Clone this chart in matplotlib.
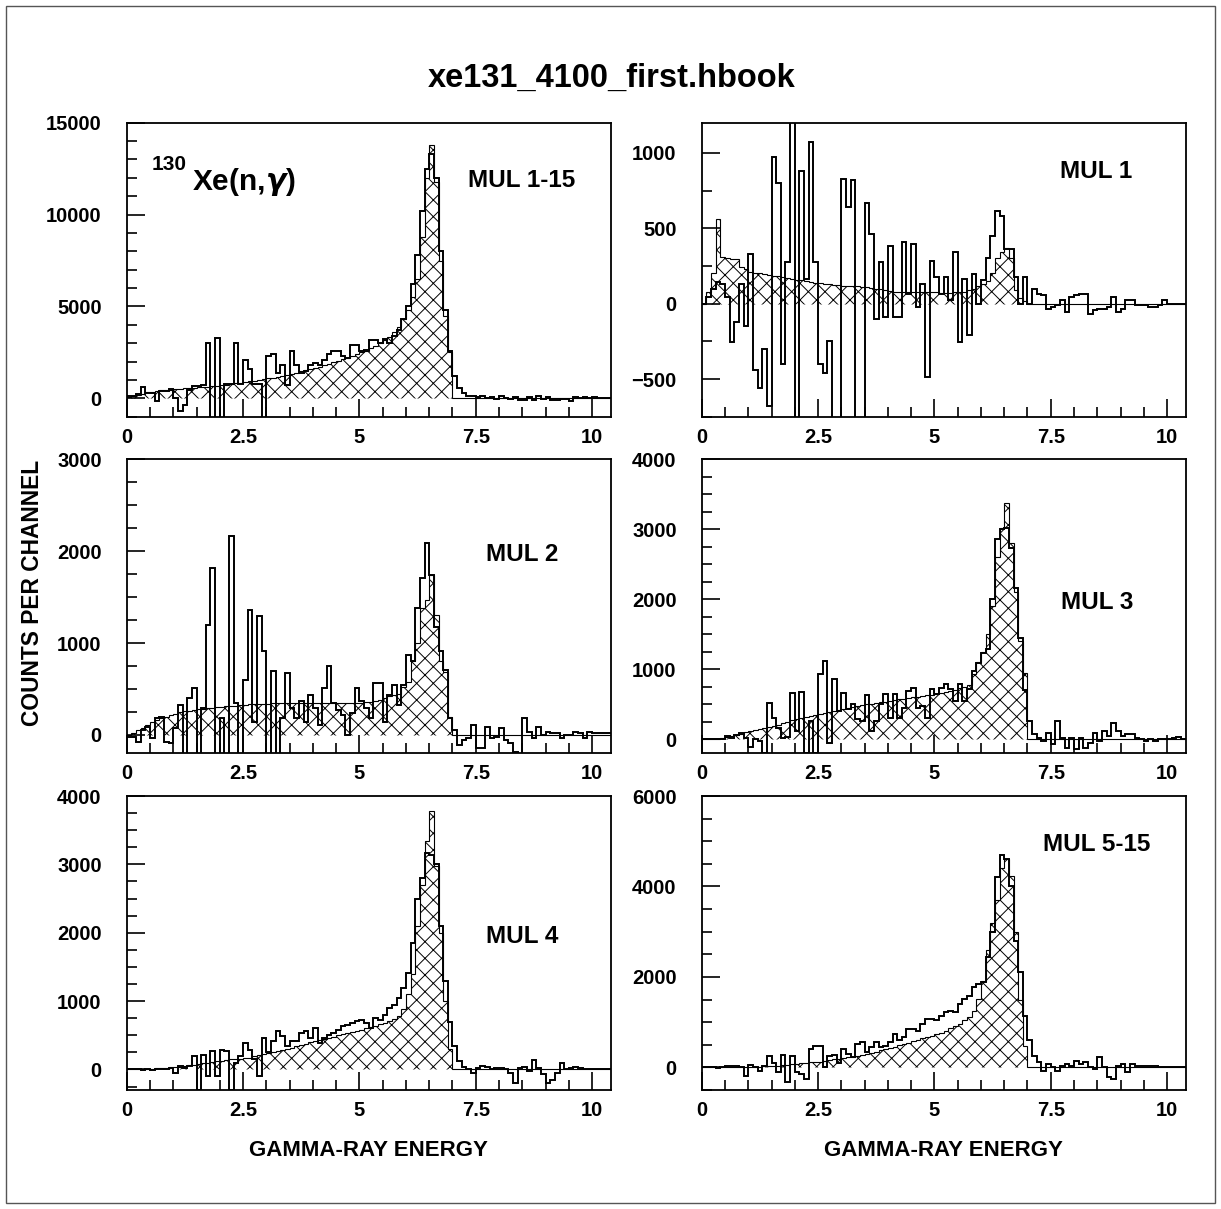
import numpy as np
import matplotlib
matplotlib.use("Agg")
import matplotlib.pyplot as plt
import matplotlib.ticker as mticker
from matplotlib.patches import Rectangle

# ── Channels: 0.1 MeV wide, 0 .. 10.4 MeV ────────────────────────────────────
EDGES = np.round(np.arange(105) * 0.1, 2)

# ── MUL 1-15 ─────────────────────────────────────────────────────────────────
data_mul1_15 = [
    100, 150, 250, 620, 290, 290, -160, 380, 380, 500,
    20, -700, -340, 470, 650, 650, 700, 3000, -1500, 3300,
    -1500, 800, 800, 3000, 800, 2100, 1600, 800, 800, -1500,
    2300, 2400, 1400, 1800, 700, 2600, 1800, 1400, 1500, 1800,
    1900, 1800, 2100, 2400, 2600, 2600, 2300, 2200, 2900, 2900,
    2600, 2650, 3200, 3150, 3000, 3250, 3000, 3400, 3700, 4300,
    5000, 6200, 7800, 10200, 12500, 13300, 12000, 8000, 4800, 2600,
    1200, 550, 300, 150, 100, 50, 100, 0, 50, -50,
    100, 0, -50, 50, -100, -100, 50, -100, 150, -50,
    50, -100, -100, -50, -50, -150, 50, 0, 50, 0,
    50, 0, 0, 0,
]
sim_mul1_15 = [
    50, 120, 200, 260, 320, 370, 400, 430, 460, 480,
    500, 520, 540, 560, 580, 600, 620, 640, 660, 690,
    720, 750, 780, 810, 840, 880, 920, 960, 1000, 1040,
    1080, 1120, 1170, 1220, 1280, 1340, 1400, 1460, 1520, 1580,
    1650, 1720, 1790, 1870, 1950, 2030, 2120, 2210, 2300, 2400,
    2500, 2600, 2720, 2850, 2990, 3150, 3350, 3600, 3900, 4300,
    4800, 5500, 6500, 8800, 12000, 13800, 11800, 7500, 4500, 2500,
] + [0] * 34

# ── MUL 1 ────────────────────────────────────────────────────────────────────
data_mul1 = [
    0, 44, 100, 143, 130, 44, -254, -121, 132, -150,
    330, -440, -560, -300, -678, 970, 800, -400, 275, 1300,
    -800, 880, 165, 1070, 275, -400, -460, -250, -800, -800,
    825, 640, 820, -800, -800, 670, 460, -100, 275, -88,
    385, -88, -88, 407, 66, 396, -22, 132, -484, 286,
    176, 66, 176, 22, 341, -253, 165, -209, 198, 0,
    154, 300, 451, 616, 583, 363, 363, 176, 0, 176,
    0, 100, 66, 55, -33, -22, -10, 22, -55, 44,
    55, 66, 66, -66, -44, -33, -33, -22, 44, -55,
    -33, 22, 22, -10, -10, -10, -20, -20, -10, 22,
    0, 0, 0, 0,
]
sim_mul1 = [
    0, 77, 200, 564, 308, 300, 298, 298, 240, 232,
    210, 205, 200, 195, 190, 185, 180, 175, 170, 165,
    160, 155, 150, 145, 140, 135, 130, 130, 125, 125,
    120, 120, 115, 115, 110, 110, 105, 100, 95, 90,
    85, 80, 80, 78, 78, 76, 76, 75, 75, 74,
    74, 72, 72, 72, 74, 75, 80, 90, 100, 120,
    130, 150, 200, 300, 340, 370, 300, 90, 40, 20,
] + [0] * 34

# ── MUL 2 ────────────────────────────────────────────────────────────────────
data_mul2 = [
    -18, -18, -73, 55, 91, -36, 180, 200, -73, -90,
    73, 327, -300, 400, 509, -300, 290, 1200, 1820, -300,
    182, -300, 2160, 345, -300, 600, 1360, 145, 1290, 909,
    -300, 700, -300, 182, 673, 290, 182, 364, 145, 436,
    290, 109, 509, 745, 345, 270, 218, 0, 240, 509,
    364, 290, 182, 564, 564, 145, 436, 545, 330, 545,
    873, 800, 1380, 1710, 2090, 1745, 1180, 909, 710, 182,
    55, -110, -55, -36, 109, -145, -145, 91, -36, -18,
    73, -55, -90, -182, -300, 182, 36, -36, 91, 0,
    36, 18, 18, -36, 0, 0, 36, 18, -36, 36,
    18, 18, 18, 18,
]
sim_mul2 = [
    0, 20, 50, 80, 110, 140, 160, 180, 200, 215,
    230, 245, 255, 265, 275, 280, 285, 290, 295, 300,
    305, 310, 315, 320, 325, 330, 335, 335, 340, 340,
    340, 345, 345, 345, 345, 345, 345, 345, 345, 345,
    345, 350, 350, 350, 350, 350, 350, 350, 350, 350,
    350, 355, 360, 370, 385, 400, 420, 436, 450, 527,
    580, 800, 1000, 1380, 1470, 1745, 1300, 800, 690, 200,
] + [0] * 34

# ── MUL 3 ────────────────────────────────────────────────────────────────────
data_mul3 = [
    0, 0, 0, 0, 0, 48, 20, 60, 95, 20,
    -110, 0, -30, -190, 524, 300, 167, 20, 30, 666,
    119, 680, -190, 262, -190, 928, 1120, -48, 857, 405,
    666, 430, 500, 285, 262, 633, 119, 262, 500, 643,
    309, 643, 309, 450, 690, 738, 450, 476, 309, 714,
    643, 738, 785, 714, 547, 785, 547, 714, 976, 1095,
    1238, 1285, 2000, 2856, 3000, 3020, 2740, 2160, 1450, 700,
    262, 70, 20, -24, 95, -71, 262, 20, -119, 20,
    -143, 20, -119, -48, 95, -24, 119, 48, 238, 119,
    48, 71, 71, 24, 0, -24, 0, -24, 0, 0,
    0, 24, 30, 0,
]
sim_mul3 = [
    0, 0, 5, 10, 20, 30, 45, 60, 80, 100,
    120, 135, 150, 165, 180, 195, 210, 230, 250, 270,
    285, 300, 315, 330, 345, 360, 375, 390, 405, 420,
    435, 450, 465, 480, 490, 500, 510, 520, 530, 540,
    550, 560, 570, 580, 590, 600, 610, 620, 630, 640,
    650, 665, 680, 695, 710, 730, 750, 780, 930, 1100,
    1250, 1500, 1900, 2600, 3020, 3380, 2800, 2100, 1400, 950,
] + [0] * 34

# ── MUL 4 ────────────────────────────────────────────────────────────────────
data_mul4 = [
    0, 10, 0, -10, 0, -10, 0, 0, 10, 20,
    -50, 50, 20, 50, 195, -300, 219, -97, 268, -97,
    292, 268, -300, 100, 195, 390, 292, 150, -97, 463,
    250, 414, 560, 487, 340, 414, 414, 536, 560, 463,
    609, 390, 463, 511, 530, 580, 633, 650, 682, 706,
    730, 682, 600, 755, 730, 804, 900, 950, 1050, 1190,
    1410, 1850, 2500, 2800, 3160, 3140, 3000, 2100, 1300, 700,
    350, 120, 30, 0, -50, 20, 50, 30, 0, 20,
    20, 0, -50, -195, 20, 40, -20, 136, 20, -60,
    -195, -160, -50, 97, 0, 20, 30, 20, 0, 10,
    0, 0, 0, 0,
]
sim_mul4 = [
    0, 0, 0, 0, 5, 10, 15, 20, 25, 30,
    35, 40, 50, 60, 70, 80, 90, 100, 110, 120,
    130, 140, 150, 155, 160, 165, 175, 190, 205, 220,
    240, 255, 270, 285, 300, 320, 340, 360, 380, 400,
    415, 430, 445, 460, 480, 500, 515, 530, 550, 565,
    580, 600, 620, 640, 660, 680, 710, 740, 780, 880,
    1100, 1400, 2100, 2700, 3340, 3780, 2970, 2000, 1000, 300,
] + [0] * 34

# ── MUL 5-15 ─────────────────────────────────────────────────────────────────
data_mul5_15 = [
    0, 10, 0, -10, 10, 20, 37, 20, 0, -184,
    52, 0, -74, 20, 258, 100, -110, 280, -330, 258,
    -100, -150, -258, 405, 480, 480, 0, 258, 280, 100,
    405, 300, 221, 516, 553, 332, 442, 553, 450, 480,
    560, 737, 600, 663, 848, 850, 800, 958, 1070, 1070,
    1050, 1140, 1216, 1250, 1216, 1400, 1510, 1580, 1770, 1840,
    1880, 2430, 3000, 4200, 4700, 4600, 4000, 2800, 2100, 1140,
    600, 258, 110, -74, 74, 0, -74, 40, 74, 40,
    147, 74, 110, 0, -30, 221, 0, -221, -258, 40,
    74, -110, 74, 40, 40, 40, 20, 20, 10, 0,
    0, 0, 0, 0,
]
sim_mul5_15 = [
    0, 0, 0, 0, 0, 0, 0, 0, 0, 0,
    5, 10, 15, 20, 25, 30, 40, 50, 60, 70,
    80, 90, 100, 110, 120, 130, 145, 160, 175, 190,
    205, 220, 240, 260, 280, 300, 325, 350, 375, 400,
    430, 460, 490, 520, 550, 580, 610, 640, 670, 700,
    730, 770, 810, 860, 910, 970, 1040, 1120, 1250, 1510,
    1900, 2600, 3200, 3700, 4400, 4600, 4240, 3000, 1500, 480,
] + [0] * 34

PANEL_LABELS = ["MUL 1-15", "MUL 1", "MUL 2", "MUL 3", "MUL 4", "MUL 5-15"]
PANEL_DATA = [data_mul1_15, data_mul1, data_mul2, data_mul3, data_mul4, data_mul5_15]
PANEL_SIM = [sim_mul1_15, sim_mul1, sim_mul2, sim_mul3, sim_mul4, sim_mul5_15]
Y_LIMITS = [(-1000, 15000), (-750, 1200), (-200, 3000),
            (-200, 4000), (-300, 4000), (-500, 6000)]
Y_MAJOR = [5000, 500, 1000, 1000, 1000, 2000]
Y_MINOR = [1000, 250, 250, 250, 250, 500]
X_TICKS = [0, 2.5, 5, 7.5, 10]
X_TICK_LABELS = ["0", "2.5", "5", "7.5", "10"]

# ── Layout (pixels of the 1221 x 1209 canvas) ───────────────────────────────
W, H = 1221, 1209
COL_LEFT = [126.7, 701.7]
ROW_BOTTOM = [416.7, 753.3, 1090.0]
AX_W, AX_H = 484.0, 294.0
# label baseline position in axes fraction
LABEL_POS = [(0.816, 0.782), (0.815, 0.811), (0.818, 0.654),
             (0.818, 0.491), (0.818, 0.501), (0.817, 0.813)]

plt.rcParams.update({
    "font.family": ["Liberation Sans", "DejaVu Sans"],
    "font.weight": "bold",
    "mathtext.fontset": "dejavusans",
    "hatch.linewidth": 0.7,
    "axes.linewidth": 1.3,
})

fig = plt.figure(figsize=(W / 100, H / 100), dpi=100)

for i in range(6):
    row, col = divmod(i, 2)
    left = COL_LEFT[col] / W
    bottom = 1 - ROW_BOTTOM[row] / H
    ax = fig.add_axes([left, bottom, AX_W / W, AX_H / H])

    # simulated spectrum: cross-hatched
    ax.stairs(PANEL_SIM[i], EDGES, baseline=0, fill=True,
              facecolor="none", edgecolor="black", hatch="xx",
              linewidth=0.8)
    # measured spectrum: open histogram
    ax.stairs(PANEL_DATA[i], EDGES, baseline=None, fill=False,
              color="black", linewidth=1.4)

    ax.set_xlim(0, 10.4)
    ax.set_ylim(*Y_LIMITS[i])
    ax.set_xticks(X_TICKS)
    ax.set_xticklabels(X_TICK_LABELS)
    ax.xaxis.set_minor_locator(mticker.MultipleLocator(0.5))
    ax.yaxis.set_major_locator(mticker.MultipleLocator(Y_MAJOR[i]))
    ax.yaxis.set_minor_locator(mticker.MultipleLocator(Y_MINOR[i]))
    ax.tick_params(axis="both", which="both", direction="in",
                   top=False, right=False, width=1.2)
    ax.tick_params(axis="both", which="major", length=13, labelsize=14.5)
    ax.tick_params(axis="both", which="minor", length=7)
    ax.tick_params(axis="y", which="major", pad=18)
    ax.tick_params(axis="x", which="major", pad=8)

    lx, ly = LABEL_POS[i]
    ax.text(lx, ly, PANEL_LABELS[i], transform=ax.transAxes,
            ha="center", va="baseline", fontsize=17.5, fontweight="bold")

    if i == 0:
        ax.text(0.052, 0.839, "130", transform=ax.transAxes,
                ha="left", va="baseline", fontsize=15, fontweight="bold")
        ax.text(0.134, 0.770, r"Xe(n,$\gamma$)", transform=ax.transAxes,
                ha="left", va="baseline", fontsize=21.5, fontweight="bold")

    if row == 2:
        ax.set_xlabel("GAMMA-RAY ENERGY", fontsize=16, fontweight="bold",
                      labelpad=14)

fig.text(33 / W, 1 - 593 / H, "COUNTS PER CHANNEL", rotation=90,
         ha="center", va="center", fontsize=16.4, fontweight="bold")
fig.text(612 / W, 1 - 78 / H, "xe131_4100_first.hbook",
         ha="center", va="center", fontsize=23.5, fontweight="bold")

# frame round the whole page
fig.add_artist(Rectangle((6 / W, 1 - 1203 / H), 1209 / W, 1197 / H,
                         transform=fig.transFigure, fill=False,
                         edgecolor="#555555", linewidth=1.0))

fig.savefig("out.png", dpi=100)
